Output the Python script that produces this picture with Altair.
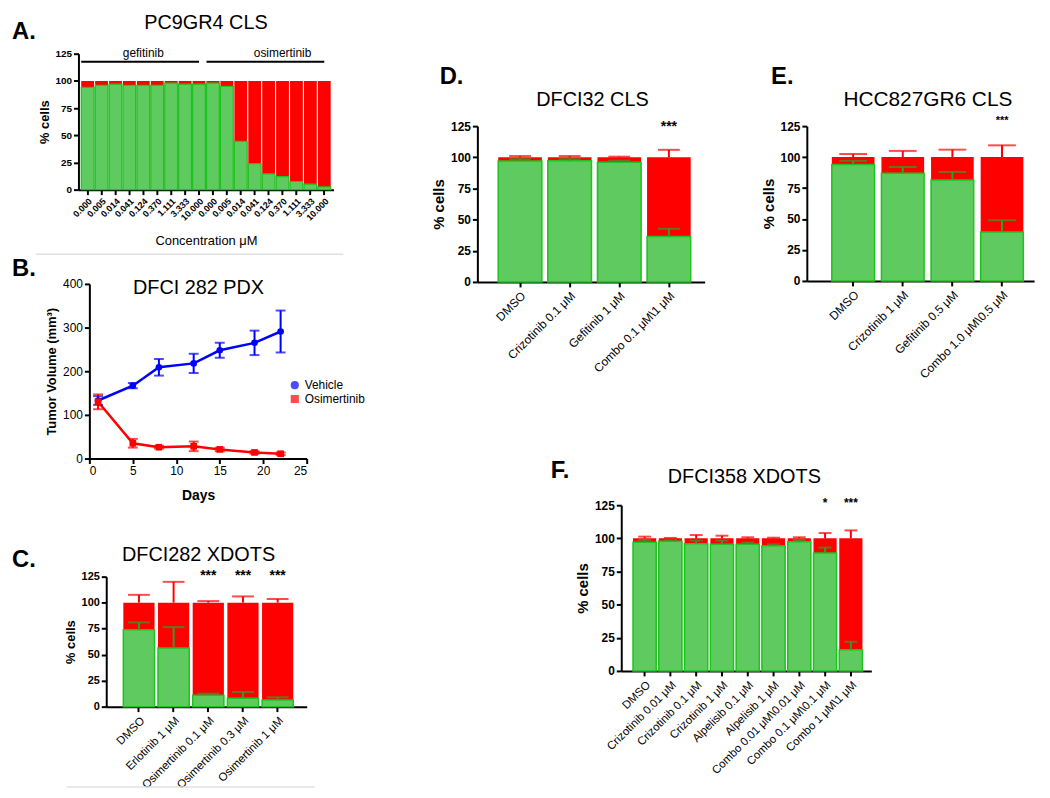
import altair as alt
import pandas as pd

FONT = "Liberation Sans"
RED = "#fe0000"
GREEN_FILL = "#5fca5f"
GREEN_EDGE = "#1ec41e"
GREEN_ERR = "#2e9e2e"
BLUE = "#0000ff"

# ---------------- Panel A data ----------------
a_drug = ["gefitinib"] * 9 + ["osimertinib"] * 9
a_conc = ["0.000", "0.005", "0.014", "0.041", "0.124", "0.370", "1.111", "3.333", "10.000"] * 2
a_alive = [94, 96, 97, 96, 96, 96, 98, 97, 97, 98, 95, 44.5, 24, 14.5, 12, 7.5, 5, 2.5]
a_groups = ["gefitinib", "osimertinib"]
a_group_first = [0, 9]
a_group_last = [8, 17]
a_group_mid = [4, 14]
a_bracket_level = [117.5, 117.5]

# ---------------- Panel B data ----------------
b_days = [1, 5, 8, 12, 15, 19, 22]
b_vehicle = [133, 167, 209, 218, 248, 265, 291]
b_vehicle_sd = [10, 6, 19, 22, 17, 28, 48]
b_osim = [130, 35, 26, 28, 21, 14, 11]
b_osim_sd = [17, 10, 3, 11, 4, 3, 3]

# ---------------- Panel C data ----------------
c_cats = ["DMSO", "Erlotinib 1 μM", "Osimertinib 0.1 μM", "Osimertinib  0.3 μM", "Osimertinib 1 μM"]
c_alive = [74, 56.5, 11, 8, 6.5]
c_green_top = [81, 76.5, 12.5, 14, 9]
c_red_top = [107.5, 120, 101.5, 106, 103.5]
c_stars = ["", "", "***", "***", "***"]

# ---------------- Panel D data ----------------
d_cats = ["DMSO", "Crizotinib 0.1 μM", "Gefitinib 1 μM", "Combo 0.1 μM\\1 μM"]
d_alive = [97, 97.3, 96, 36.5]
d_green_top = [98.5, 98.5, 97.3, 42.6]
d_red_top = [101, 101, 100.5, 106]
d_stars = ["", "", "", "***"]

# ---------------- Panel E data ----------------
e_cats = ["DMSO", "Crizotinib 1 μM", "Gefitinib 0.5 μM", "Combo 1.0 μM\\0.5 μM"]
e_alive = [94, 87, 81.5, 39.5]
e_green_top = [97, 92, 88, 49]
e_red_top = [102.5, 105, 106, 109.5]
e_stars = ["", "", "", "***"]

# ---------------- Panel F data ----------------
f_cats = ["DMSO", "Crizotinib 0.01 μM", "Crizotinib 0.1 μM", "Crizotinib 1 μM",
          "Alpelisib 0.1 μM", "Alpelisib  1 μM", "Combo 0.01 μM\\0.01 μM",
          "Combo 0.1 μM\\0.1 μM", "Combo 1 μM\\1 μM"]
f_alive = [97, 97.8, 96, 95.5, 95.5, 94.5, 97.5, 89, 16]
f_green_top = [98.8, 98.5, 98.3, 98.3, 96.8, 95.5, 98.8, 93, 22]
f_red_top = [101.3, 100.3, 102.5, 102, 100.8, 100.5, 100.8, 104, 106]
f_stars = ["", "", "", "", "", "", "", "*", "***"]

PCT_TICKS = [0, 25, 50, 75, 100, 125]
yscale = alt.Scale(domain=[0, 125], nice=False, zero=True)


def text_at(txt, x, y, size, weight="normal", align="left", opacity=1.0, baseline="alphabetic"):
    return alt.Chart(pd.DataFrame({"t": [txt]})).mark_text(
        fontSize=size, fontWeight=weight, align=align, baseline=baseline,
        font=FONT, color="black", opacity=opacity
    ).encode(text="t:N", x=alt.value(x), y=alt.value(y))


def anchor(x, y):
    return text_at(".", x, y, 1, align="center", opacity=0, baseline="middle")


def spacer():
    return alt.layer(anchor(0, 0)).properties(width=1, height=1)


def separator(x1, x2, y):
    return alt.Chart(pd.DataFrame({"v": [0]})).mark_rule(color="#e2e2e2", strokeWidth=1.5).encode(
        x=alt.value(x1), x2=alt.value(x2), y=alt.value(y))


def pct_axis(label_size, title_size):
    return alt.Axis(values=PCT_TICKS, title="% cells", labelFontSize=label_size,
                    labelFontWeight="bold", titleFontSize=title_size,
                    titleFontWeight="bold")


# ---------------- Panel A ----------------
a_keys = [f"{d}|{c}" for d, c in zip(a_drug, a_conc)]
df_a = pd.DataFrame({"key": a_keys, "alive": a_alive, "total": [100] * len(a_keys)})
df_a_grp = pd.DataFrame({
    "group": a_groups,
    "first": [a_keys[i] for i in a_group_first],
    "last": [a_keys[i] for i in a_group_last],
    "mid": [a_keys[i] for i in a_group_mid],
    "level": a_bracket_level,
})
xs_a = alt.Scale(domain=a_keys, paddingInner=0.08, paddingOuter=0.2)
xax_a = alt.Axis(title="Concentration μM", labelExpr="split(datum.label, '|')[1]",
                 labelAngle=-45, labelFontSize=9, labelFontWeight="bold",
                 titleFontSize=13, titleFontWeight="normal", titleY=55,
                 titleBaseline="alphabetic", labelPadding=2)
yax_a = pct_axis(10, 13)
W_A, H_A = 257, 137
a_red = alt.Chart(df_a).mark_bar(color=RED).encode(
    x=alt.X("key:N", scale=xs_a, axis=xax_a),
    y=alt.Y("total:Q", scale=yscale, axis=yax_a))
a_green = alt.Chart(df_a).mark_bar(fill=GREEN_FILL, stroke=GREEN_EDGE, strokeWidth=1.2).encode(
    x=alt.X("key:N", scale=xs_a, axis=xax_a),
    y=alt.Y("alive:Q", scale=yscale, axis=yax_a))
a_rule = alt.Chart(df_a_grp).mark_rule(color="black", strokeWidth=2).encode(
    x=alt.X("first:N", scale=xs_a, axis=xax_a, bandPosition=0),
    x2=alt.X2("last:N", bandPosition=0.5),
    y=alt.Y("level:Q", scale=yscale, axis=yax_a))
a_lab = alt.Chart(df_a_grp).mark_text(fontSize=12, baseline="bottom", dy=-2, font=FONT).encode(
    x=alt.X("mid:N", scale=xs_a, axis=xax_a, bandPosition=0.5),
    y=alt.Y("level:Q", scale=yscale, axis=yax_a),
    text="group:N")
panel_a = alt.layer(
    a_red, a_green, a_rule, a_lab, separator(-43, 267, 202),
    text_at("PC9GR4 CLS", W_A / 2, -25, 20, align="center"),
    text_at("A.", -67, -15, 24, weight="bold"),
    anchor(-68, -37), anchor(293, 204),
).properties(width=W_A, height=H_A)

# ---------------- Panel B ----------------
W_B, H_B = 219, 176
df_b = pd.DataFrame({
    "day": b_days * 2,
    "vol": b_vehicle + b_osim,
    "sd": b_vehicle_sd + b_osim_sd,
    "series": ["Vehicle"] * len(b_days) + ["Osimertinib"] * len(b_days),
})
xb = alt.X("day:Q", scale=alt.Scale(domain=[0, 25], nice=False),
           axis=alt.Axis(values=[0, 5, 10, 15, 20, 25], title="Days", labelFontSize=12,
                         titleFontSize=14, titleFontWeight="bold", titleY=41,
                         titleBaseline="alphabetic"))
yb_scale = alt.Scale(domain=[0, 400], nice=False)
yb_axis = alt.Axis(values=[0, 100, 200, 300, 400], title="Tumor Volume (mm³)",
                   labelFontSize=12, titleFontSize=13, titleFontWeight="bold")
b_dom = ["Vehicle", "Osimertinib"]
b_colors = [BLUE, RED]
b_markers = ["circle", "square"]
# the legend is hoisted to the top-level view, so its position is given in whole-figure pixels
b_leg = alt.Legend(orient="none", legendX=282, legendY=370, title=None, labelFontSize=12,
                   symbolSize=45, labelFont=FONT, rowPadding=0)
col_l = alt.Color("series:N", scale=alt.Scale(domain=b_dom, range=b_colors), legend=b_leg)
shp_l = alt.Shape("series:N", scale=alt.Scale(domain=b_dom, range=b_markers), legend=b_leg)
base_b = alt.Chart(df_b)
b_line = base_b.mark_line(strokeWidth=2.5).encode(
    x=xb, y=alt.Y("vol:Q", scale=yb_scale, axis=yb_axis), color=col_l)
b_err = base_b.transform_calculate(
    lo="datum.vol - datum.sd", hi="datum.vol + datum.sd"
).mark_rule(strokeWidth=2).encode(
    x=xb, y=alt.Y("lo:Q", scale=yb_scale, axis=yb_axis), y2="hi:Q", color=col_l)
b_caps = base_b.transform_calculate(
    lo="datum.vol - datum.sd", hi="datum.vol + datum.sd"
).transform_fold(["lo", "hi"], as_=["end", "v"]).mark_tick(
    orient="horizontal", size=10, thickness=2).encode(
    x=xb, y=alt.Y("v:Q", scale=yb_scale, axis=yb_axis), color=col_l)
b_pts = base_b.mark_point(filled=True, size=45, opacity=1).encode(
    x=xb, y=alt.Y("vol:Q", scale=yb_scale, axis=yb_axis), color=col_l, shape=shp_l)
panel_b = alt.layer(
    b_line, b_err, b_caps, b_pts,
    text_at("DFCI 282 PDX", 110, 10, 20, align="center"),
    text_at("B.", -78, -8, 24, weight="bold"),
    anchor(-79, -27), anchor(282, 243),
).properties(width=W_B, height=H_B)


# ---------------- bar panels C-F ----------------
def bar_panel(cats, alive, gtop, rtop, stars, star_level, W, H, pad_in, pad_out, band_align,
              cap, xlab_size, ylab_size, ytitle_size, star_size,
              title, title_pos, title_size, letter, letter_pos, tl, br, extra=()):
    n = len(cats)
    df = pd.DataFrame({"cat": cats, "alive": alive, "gtop": gtop, "rtop": rtop,
                       "total": [100] * n, "stars": stars, "slevel": [star_level] * n})
    xs = alt.Scale(domain=cats, paddingInner=pad_in, paddingOuter=pad_out, align=band_align)
    xa = alt.Axis(title=None, labelAngle=-45, labelFontSize=xlab_size,
                  labelFontWeight="normal", labelPadding=3)
    X = alt.X("cat:N", scale=xs, axis=xa)
    ya = pct_axis(ylab_size, ytitle_size)

    def Y(f):
        return alt.Y(f, scale=yscale, axis=ya)

    base = alt.Chart(df)
    red = base.mark_bar(color=RED).encode(x=X, y=Y("total:Q"))
    green = base.mark_bar(fill=GREEN_FILL, stroke=GREEN_EDGE, strokeWidth=1.5).encode(x=X, y=Y("alive:Q"))
    rerr = base.mark_rule(color=RED, strokeWidth=2).encode(x=X, y=Y("total:Q"), y2="rtop:Q")
    rcap = base.mark_tick(color=RED, orient="horizontal", size=cap, thickness=2).encode(x=X, y=Y("rtop:Q"))
    gerr = base.mark_rule(color=GREEN_ERR, strokeWidth=2).encode(x=X, y=Y("alive:Q"), y2="gtop:Q")
    gcap = base.mark_tick(color=GREEN_ERR, orient="horizontal", size=cap, thickness=2).encode(x=X, y=Y("gtop:Q"))
    st = base.mark_text(fontSize=star_size, fontWeight="bold", baseline="middle", font=FONT).encode(
        x=X, y=Y("slevel:Q"), text="stars:N")
    return alt.layer(
        red, green, rerr, rcap, gerr, gcap, st, *extra,
        text_at(title, title_pos[0], title_pos[1], title_size, align="center"),
        text_at(letter, letter_pos[0], letter_pos[1], 24, weight="bold"),
        anchor(*tl), anchor(*br),
    ).properties(width=W, height=H)


panel_c = bar_panel(c_cats, c_alive, c_green_top, c_red_top, c_stars, 126,
                    202, 131, 0.1, 0.44, 0.56, 22, 11.5, 11, 13, 14,
                    "DFCI282 XDOTS", (93, -16), 20, "C.", (-95, -10), (-96, -51), (265, 216),
                    extra=(separator(-40, 210, 212),))
panel_d = bar_panel(d_cats, d_alive, d_green_top, d_red_top, d_stars, 124,
                    229, 157, 0.12, 0.35, 0.6, 22, 12, 12, 15, 14,
                    "DFCI32 CLS", (116, -20), 20, "D.", (-38, -42), (-105, -113), (244, 318))
panel_e = bar_panel(e_cats, e_alive, e_green_top, e_red_top, e_stars, 129.5,
                    229, 156, 0.14, 0.36, 0.7, 28, 12, 12, 15, 11,
                    "HCC827GR6 CLS", (122, -20), 21, "E.", (-36, -42), (-86, -113), (236, 318))
panel_f = bar_panel(f_cats, f_alive, f_green_top, f_red_top, f_stars, 127,
                    252, 167, 0.1, 0.4, 0.57, 13, 11.5, 12, 15, 12,
                    "DFCI358 XDOTS", (124, -22), 20, "F.", (-71, -27), (-250, -63), (420, 284))

left_col = alt.vconcat(
    spacer(),
    alt.hconcat(spacer(), panel_a, spacing=0),
    alt.hconcat(spacer(), panel_b, spacing=0),
    alt.hconcat(spacer(), panel_c, spacing=0),
    spacing=0,
)
right_col = alt.vconcat(
    spacer(),
    alt.hconcat(spacer(), panel_d, panel_e, spacing=0),
    alt.hconcat(spacer(), panel_f, spacing=0),
    spacing=0,
)

chart = alt.hconcat(left_col, right_col, spacing=0).properties(padding=0).configure(
    font=FONT
).configure_view(stroke=None).configure_axis(
    domainColor="black", domainWidth=2, tickColor="black", tickWidth=2, tickSize=5,
    labelColor="black", titleColor="black", grid=False, labelFont=FONT, titleFont=FONT,
)

chart.save("out.html", embed_options={"renderer": "svg", "actions": False})
